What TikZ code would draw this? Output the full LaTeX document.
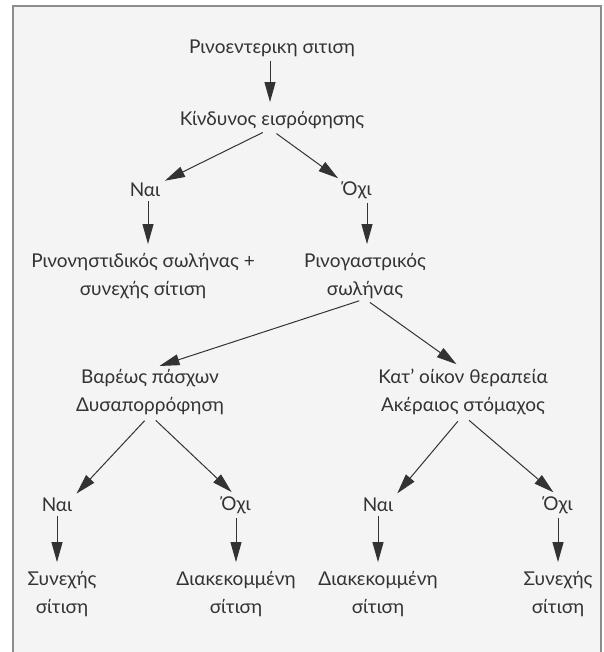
\documentclass[tikz,border=0pt]{standalone}
\usepackage{fontspec}
\setmainfont{Lato}
\usetikzlibrary{arrows.meta}
\definecolor{bg}{HTML}{F4F4F4}
\definecolor{frame}{HTML}{8C8C8C}
\definecolor{ink}{HTML}{333333}
\tikzset{
  lbl/.style={inner sep=0pt, align=center, text=ink, font=\fontsize{19}{28}\selectfont},
  arr/.style={draw=ink, line width=1pt, -{Triangle[length=20pt,width=11pt]}},
}
\begin{document}
\begin{tikzpicture}[x=1pt,y=-1pt]
\useasboundingbox (0,0) rectangle (603,652);
\fill[white] (0,0) rectangle (603,652);
\fill[bg] (13,6) rectangle (601,652);
\draw[frame, line width=1.5pt] (13,652) -- (13,6) -- (601,6) -- (601,652);

\node[lbl] (top) at (272,48) {Ρινοεντερικη σιτιση};
\node[lbl] (kind) at (272,120) {Κίνδυνος εισρόφησης};
\node[lbl] (nai1) at (145,190) {Ναι};
\node[lbl] (oxi1) at (357,190) {Όχι};
\node[lbl] (rn) at (143,276) {Ρινονηστιδικός σωλήνας +\\συνεχής σίτιση};
\node[lbl] (rg) at (365,276) {Ρινογαστρικός\\σωλήνας};
\node[lbl] (bar) at (150,392) {Βαρέως πάσχων\\Δυσαπορρόφηση};
\node[lbl] (kat) at (463,392) {Κατ' οίκον θεραπεία\\Ακέραιος στόμαχος};
\node[lbl] (nai2) at (57,505) {Ναι};
\node[lbl] (oxi2) at (236,505) {Όχι};
\node[lbl] (nai3) at (378,505) {Ναι};
\node[lbl] (oxi3) at (558,505) {Όχι};
\node[lbl] (b1) at (62,594) {Συνεχής\\σίτιση};
\node[lbl] (b2) at (236,594) {Διακεκομμένη\\σίτιση};
\node[lbl] (b3) at (378,594) {Διακεκομμένη\\σίτιση};
\node[lbl] (b4) at (558,594) {Συνεχής\\σίτιση};

\draw[arr, shorten <=4pt, shorten >=9pt] (top.south -| 270,0) -- (kind.north -| 270,0);
\draw[arr, shorten <=8pt, shorten >=5pt] (kind.south -| 270,0) -- (nai1.north east);
\draw[arr, shorten <=8pt, shorten >=5pt] (kind.south -| 270,0) -- (oxi1.north west);
\draw[arr, shorten <=4pt, shorten >=9pt] (nai1.south -| 148,0) -- (rn.north -| 148,0);
\draw[arr, shorten <=4pt, shorten >=9pt] (oxi1.south -| 367,0) -- (rg.north -| 367,0);
\draw[arr, shorten <=6pt, shorten >=10pt] (rg.south) -- (bar.north);
\draw[arr, shorten <=6pt, shorten >=8pt] (rg.south) -- (kat.north);
\draw[arr, shorten <=8pt, shorten >=6pt] (bar.south) -- (nai2.north east);
\draw[arr, shorten <=8pt, shorten >=6pt] (bar.south) -- (oxi2.north);
\draw[arr, shorten <=8pt, shorten >=6pt] (kat.south) -- (nai3.north east);
\draw[arr, shorten <=8pt, shorten >=6pt] (kat.south) -- (oxi3.north);
\draw[arr, shorten <=4pt, shorten >=9pt] (nai2.south) -- (b1.north -| nai2.south);
\draw[arr, shorten <=4pt, shorten >=9pt] (oxi2.south) -- (b2.north -| oxi2.south);
\draw[arr, shorten <=4pt, shorten >=9pt] (nai3.south) -- (b3.north -| nai3.south);
\draw[arr, shorten <=4pt, shorten >=9pt] (oxi3.south) -- (b4.north -| oxi3.south);
\end{tikzpicture}
\end{document}
